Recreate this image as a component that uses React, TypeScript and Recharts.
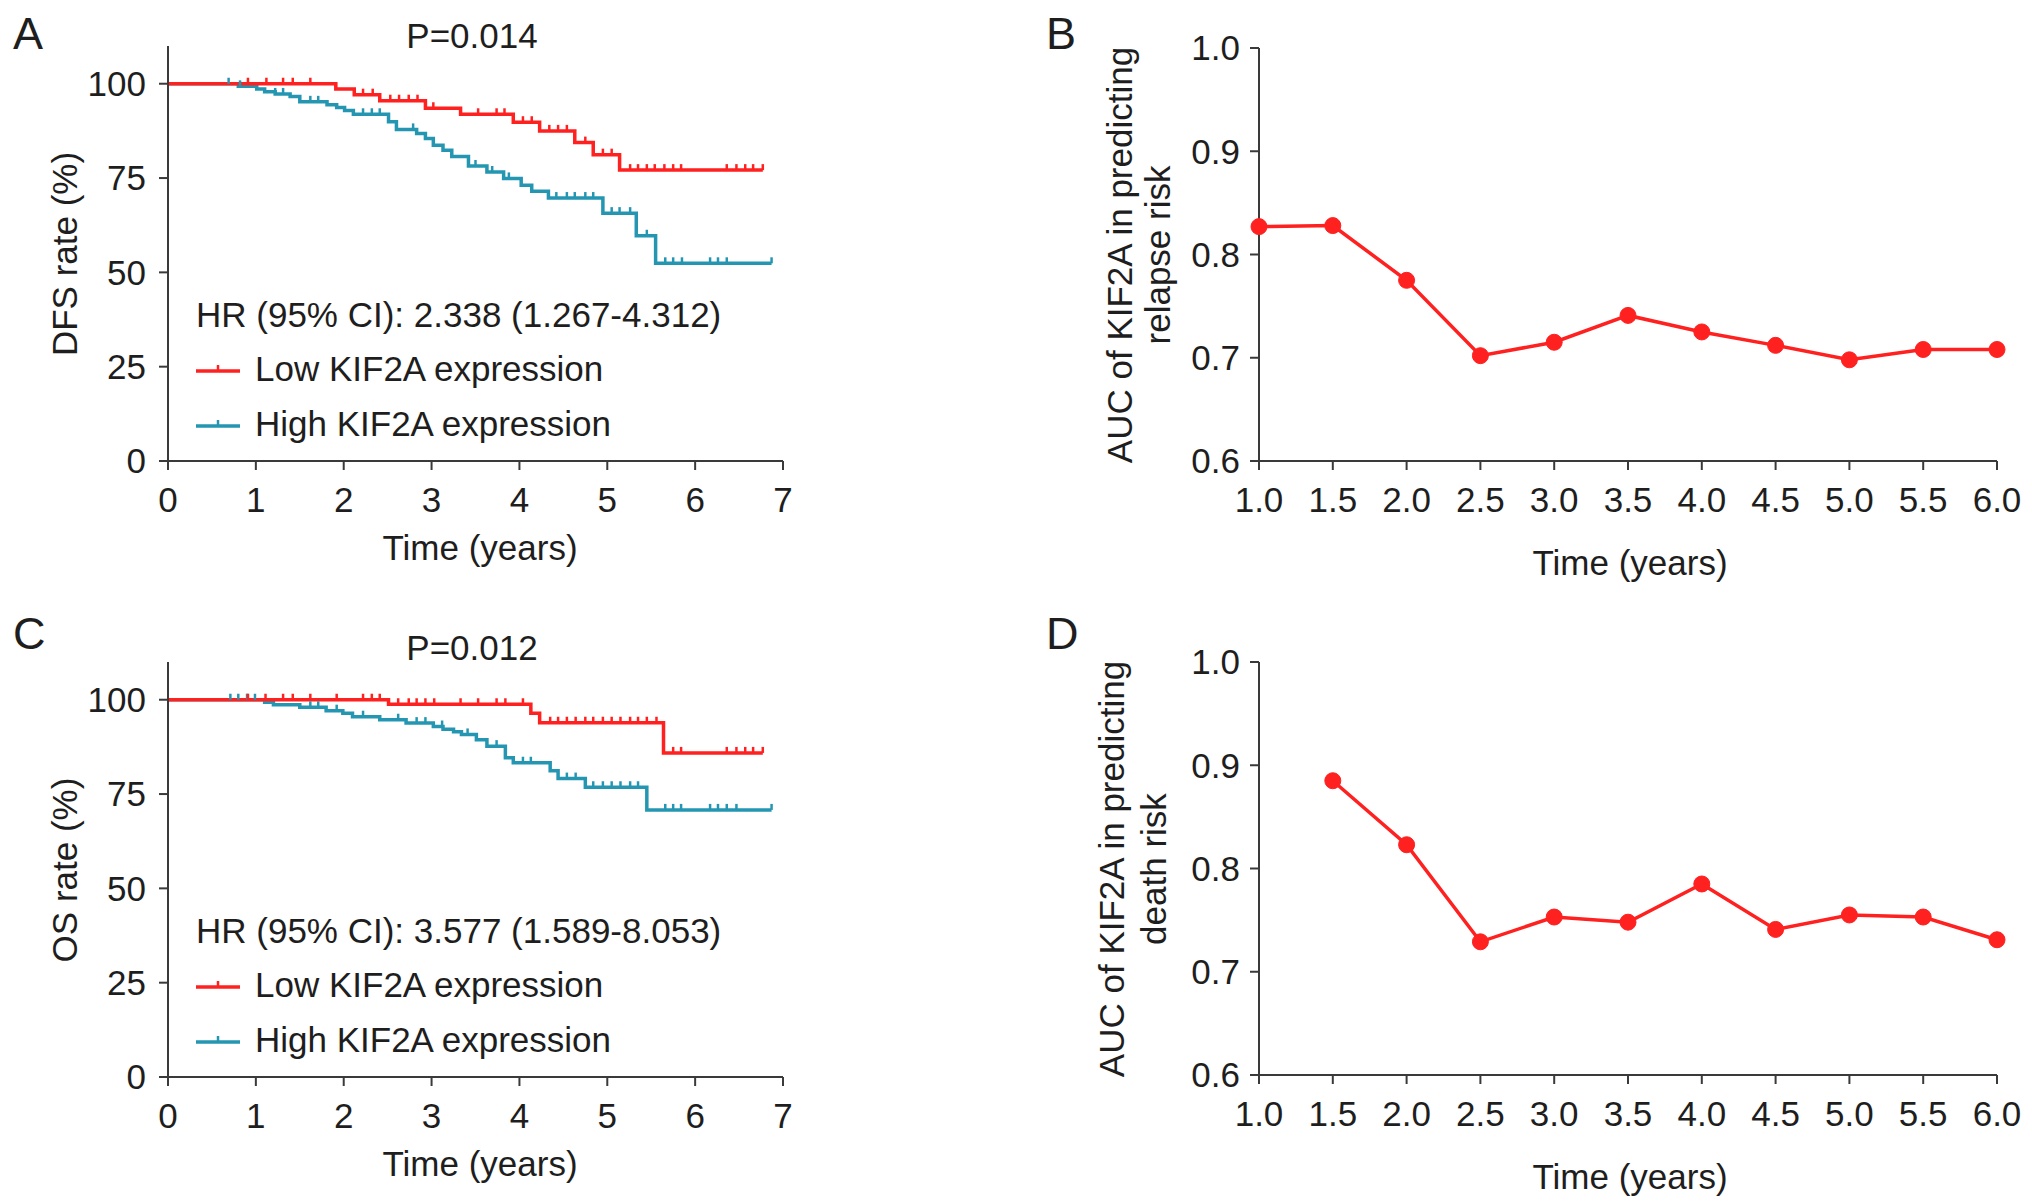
import React from 'react';
import { LineChart, Line, XAxis, YAxis, Legend } from 'recharts';

const FONT = '"Liberation Sans", Arial, Helvetica, sans-serif';
const INK = '#1e1e1e';
const AXIS = '#3a3a3a';
const RED = '#ff2020';
const TEAL = '#2596b2';
const FS = 35;

const kmTicksX = [0, 1, 2, 3, 4, 5, 6, 7];
const kmTicksY = [0, 25, 50, 75, 100];
const aucTicksX = [1, 1.5, 2, 2.5, 3, 3.5, 4, 4.5, 5, 5.5, 6];
const aucTicksY = [0.6, 0.7, 0.8, 0.9, 1.0];
const kmLegendOrder = ['Low KIF2A expression', 'High KIF2A expression'];

// A: disease-free survival, step times (years) and survival (%)
const dfsLowTimes = [0, 1.91, 2.12, 2.41, 2.93, 3.33, 3.93, 4.23, 4.63, 4.84, 5.14];
const dfsLowSurv = [100, 98.6, 97.1, 95.5, 93.5, 91.9, 89.8, 87.5, 84.4, 81.2, 77.1];
const dfsLowCensored = [0.91, 1.12, 1.31, 1.42, 1.62, 2.22, 2.33, 2.53, 2.63, 2.74, 2.84, 3.02, 3.53, 3.74, 3.83, 4.04, 4.14, 4.34, 4.44, 4.54, 4.75, 4.95, 5.05, 5.26, 5.35, 5.45, 5.54, 5.65, 5.75, 5.84, 6.36, 6.47, 6.57, 6.66, 6.77];
const dfsHighTimes = [0, 0.8, 1.01, 1.1, 1.22, 1.39, 1.5, 1.81, 1.92, 2.01, 2.11, 2.51, 2.6, 2.83, 2.93, 3.02, 3.13, 3.23, 3.42, 3.63, 3.82, 4.02, 4.14, 4.33, 4.95, 5.33, 5.55];
const dfsHighSurv = [100, 99.3, 98.6, 97.9, 97.3, 96.6, 95.2, 94.4, 93.7, 92.9, 91.9, 89.9, 87.9, 86.8, 85.5, 83.7, 82.4, 80.7, 78.2, 76.6, 74.9, 73.1, 71.5, 69.7, 65.7, 59.7, 52.4];
const dfsHighCensored = [0.69, 0.82, 1.22, 1.31, 1.62, 1.71, 2.22, 2.32, 2.41, 2.79, 3.5, 3.69, 3.88, 4.42, 4.54, 4.63, 4.75, 4.84, 5.05, 5.14, 5.26, 5.45, 5.66, 5.75, 5.85, 6.17, 6.26, 6.36, 6.87];

// C: overall survival
const osLowTimes = [0, 2.51, 4.13, 4.23, 5.64];
const osLowSurv = [100, 98.8, 96.4, 93.9, 85.9];
const osLowCensored = [0.91, 1.11, 1.31, 1.42, 1.62, 1.92, 2.22, 2.32, 2.41, 2.62, 2.74, 2.83, 2.93, 3.03, 3.33, 3.53, 3.74, 3.84, 4.04, 4.35, 4.44, 4.54, 4.64, 4.75, 4.84, 4.95, 5.05, 5.15, 5.26, 5.35, 5.45, 5.56, 5.75, 5.84, 6.36, 6.47, 6.57, 6.66, 6.77];
const osHighTimes = [0, 1.1, 1.2, 1.5, 1.8, 1.99, 2.1, 2.41, 2.71, 3.02, 3.13, 3.25, 3.34, 3.51, 3.63, 3.84, 3.93, 4.35, 4.44, 4.75, 5.45];
const osHighSurv = [100, 99.3, 98.7, 98.0, 97.1, 96.4, 95.5, 94.7, 93.8, 92.9, 92.2, 91.5, 90.8, 89.4, 87.7, 84.6, 83.3, 81.2, 79.1, 76.8, 70.8];
const osHighCensored = [0.71, 0.8, 0.9, 0.99, 1.62, 1.71, 1.92, 2.22, 2.62, 2.83, 2.93, 3.12, 3.41, 3.74, 4.04, 4.13, 4.54, 4.64, 4.84, 4.95, 5.05, 5.15, 5.26, 5.35, 5.66, 5.75, 5.84, 6.17, 6.26, 6.36, 6.47, 6.87];

// B and D: time-dependent AUC
const aucRelapseTimes = [1, 1.5, 2, 2.5, 3, 3.5, 4, 4.5, 5, 5.5, 6];
const aucRelapse = [0.827, 0.828, 0.775, 0.702, 0.715, 0.741, 0.725, 0.712, 0.698, 0.708, 0.708];
const aucDeathTimes = [1.5, 2, 2.5, 3, 3.5, 4, 4.5, 5, 5.5, 6];
const aucDeath = [0.885, 0.823, 0.729, 0.753, 0.748, 0.785, 0.741, 0.755, 0.753, 0.731];

type KmRow = { t: number; s: number; censored: boolean };

function buildKm(times: number[], surv: number[], censored: number[]): KmRow[] {
  const levelAt = (t: number) => {
    let s = surv[0];
    times.forEach((tt, i) => {
      if (tt <= t) s = surv[i];
    });
    return s;
  };
  const rows: KmRow[] = times.map((t, i) => ({ t, s: surv[i], censored: false }));
  censored.forEach((t) => rows.push({ t, s: levelAt(t), censored: true }));
  return rows.sort((a, b) => a.t - b.t || (a.censored ? 1 : -1));
}

const dfsLow = buildKm(dfsLowTimes, dfsLowSurv, dfsLowCensored);
const dfsHigh = buildKm(dfsHighTimes, dfsHighSurv, dfsHighCensored);
const osLow = buildKm(osLowTimes, osLowSurv, osLowCensored);
const osHigh = buildKm(osHighTimes, osHighSurv, osHighCensored);
const relapseRows = aucRelapseTimes.map((t, i) => ({ t, auc: aucRelapse[i] }));
const deathRows = aucDeathTimes.map((t, i) => ({ t, auc: aucDeath[i] }));

const tickStyle = { fontSize: FS, fill: INK, fontFamily: FONT };
const axisStyle = { stroke: AXIS, strokeWidth: 2 };

// label props x/y get overwritten by recharts, so use own names
function XTitle({ posX, posY, text }: { posX: number; posY: number; text: string; viewBox?: unknown }) {
  return (
    <text x={posX} y={posY} textAnchor="middle" dominantBaseline="central" fontSize={FS} fontFamily={FONT} fill={INK}>
      {text}
    </text>
  );
}

function YTitle({ xs, midY, lines }: { xs: number[]; midY: number; lines: string[]; viewBox?: unknown }) {
  return (
    <g>
      {lines.map((line, i) => (
        <text
          key={line}
          x={xs[i]}
          y={midY}
          transform={`rotate(-90, ${xs[i]}, ${midY})`}
          textAnchor="middle"
          dominantBaseline="central"
          fontSize={FS}
          fontFamily={FONT}
          fill={INK}
        >
          {line}
        </text>
      ))}
    </g>
  );
}

const censorDot = (color: string) => (p: any) => {
  if (!p.payload || !p.payload.censored) return <g key={`n-${p.index}`} />;
  return <line key={`c-${p.index}`} x1={p.cx} x2={p.cx} y1={p.cy} y2={p.cy - 6} stroke={color} strokeWidth={2.5} />;
};

const kmLegend = (hr: string) => (props: any) => {
  const items = [...(props.payload || [])].sort(
    (a: any, b: any) => kmLegendOrder.indexOf(a.value) - kmLegendOrder.indexOf(b.value)
  );
  return (
    <div style={{ position: 'relative', width: 580, height: 170, fontFamily: FONT, fontSize: FS, color: INK }}>
      <div style={{ position: 'absolute', left: 0, top: 0, height: 50, lineHeight: '50px', whiteSpace: 'nowrap' }}>{hr}</div>
      {items.map((it: any, i: number) => (
        <div
          key={it.value}
          style={{ position: 'absolute', left: 0, top: 54 + i * 55, height: 50, display: 'flex', alignItems: 'center', whiteSpace: 'nowrap' }}
        >
          <svg width={46} height={20} style={{ display: 'block' }}>
            <line x1={0} x2={44} y1={12} y2={12} stroke={it.color} strokeWidth={3.5} />
            <line x1={22} x2={22} y1={12} y2={6} stroke={it.color} strokeWidth={2.5} />
          </svg>
          <span style={{ marginLeft: 13 }}>{it.value}</span>
        </div>
      ))}
    </div>
  );
};

function KmPanel({ top, low, high, yTitle, hr }: { top: number; low: KmRow[]; high: KmRow[]; yTitle: string; hr: string }) {
  return (
    <div style={{ position: 'absolute', left: 0, top }}>
      <LineChart width={800} height={590} margin={{ top: 46, right: 17, bottom: 0, left: 0 }}>
        <XAxis
          type="number"
          dataKey="t"
          domain={[0, 7]}
          ticks={kmTicksX}
          interval={0}
          height={129}
          tickSize={9}
          tickMargin={17}
          axisLine={axisStyle}
          tickLine={axisStyle}
          tick={tickStyle}
          allowDataOverflow
          label={<XTitle posX={480} posY={547} text="Time (years)" />}
        />
        <YAxis
          type="number"
          domain={[0, 110]}
          ticks={kmTicksY}
          interval={0}
          width={168}
          tickSize={9}
          tickMargin={13}
          axisLine={axisStyle}
          tickLine={axisStyle}
          tick={tickStyle}
          allowDataOverflow
          label={<YTitle xs={[64]} midY={254} lines={[yTitle]} />}
        />
        <Legend
          layout="horizontal"
          verticalAlign="middle"
          align="center"
          wrapperStyle={{ left: 196, top: 290, width: 580 }}
          content={kmLegend(hr)}
        />
        <Line
          data={high}
          dataKey="s"
          name="High KIF2A expression"
          type="stepAfter"
          stroke={TEAL}
          strokeWidth={3.5}
          dot={censorDot(TEAL)}
          activeDot={false}
          isAnimationActive={false}
        />
        <Line
          data={low}
          dataKey="s"
          name="Low KIF2A expression"
          type="stepAfter"
          stroke={RED}
          strokeWidth={3.5}
          dot={censorDot(RED)}
          activeDot={false}
          isAnimationActive={false}
        />
      </LineChart>
    </div>
  );
}

function AucPanel({ top, rows, lines, xs }: { top: number; rows: { t: number; auc: number }[]; lines: string[]; xs: number[] }) {
  return (
    <div style={{ position: 'absolute', left: 1040, top }}>
      <LineChart width={992} height={590} margin={{ top: 48, right: 35, bottom: 0, left: 0 }}>
        <XAxis
          type="number"
          dataKey="t"
          domain={[1, 6]}
          ticks={aucTicksX}
          interval={0}
          height={129}
          tickSize={9}
          tickMargin={17}
          tickFormatter={(v: number) => v.toFixed(1)}
          axisLine={axisStyle}
          tickLine={axisStyle}
          tick={tickStyle}
          label={<XTitle posX={590} posY={562} text="Time (years)" />}
        />
        <YAxis
          type="number"
          domain={[0.6, 1.0]}
          ticks={aucTicksY}
          interval={0}
          width={219}
          tickSize={9}
          tickMargin={10}
          tickFormatter={(v: number) => v.toFixed(1)}
          axisLine={axisStyle}
          tickLine={axisStyle}
          tick={tickStyle}
          label={<YTitle xs={xs} midY={255} lines={lines} />}
        />
        <Line
          data={rows}
          dataKey="auc"
          type="linear"
          stroke={RED}
          strokeWidth={3.5}
          dot={{ r: 8, fill: RED, stroke: RED, strokeWidth: 1 }}
          activeDot={false}
          isAnimationActive={false}
        />
      </LineChart>
    </div>
  );
}

export default function App() {
  return (
    <div style={{ position: 'absolute', left: 0, top: 0, width: 2032, height: 1204, background: '#fff', overflow: 'hidden' }}>
      <KmPanel top={0} low={dfsLow} high={dfsHigh} yTitle="DFS rate (%)" hr="HR (95% CI): 2.338 (1.267-4.312)" />
      <KmPanel top={616} low={osLow} high={osHigh} yTitle="OS rate (%)" hr="HR (95% CI): 3.577 (1.589-8.053)" />
      <AucPanel top={0} rows={relapseRows} lines={['AUC of KIF2A in predicting', 'relapse risk']} xs={[79, 117]} />
      <AucPanel top={614} rows={deathRows} lines={['AUC of KIF2A in predicting', 'death risk']} xs={[71, 113]} />
      <svg width={2032} height={1204} style={{ position: 'absolute', left: 0, top: 0, pointerEvents: 'none' }}>
        <g fontFamily={FONT} fill={INK}>
          <text x={13} y={49} fontSize={45}>A</text>
          <text x={1046} y={49} fontSize={45}>B</text>
          <text x={13} y={649} fontSize={45}>C</text>
          <text x={1046} y={649} fontSize={45}>D</text>
          <text x={472} y={48} fontSize={FS} textAnchor="middle">P=0.014</text>
          <text x={472} y={660} fontSize={FS} textAnchor="middle">P=0.012</text>
        </g>
      </svg>
    </div>
  );
}
